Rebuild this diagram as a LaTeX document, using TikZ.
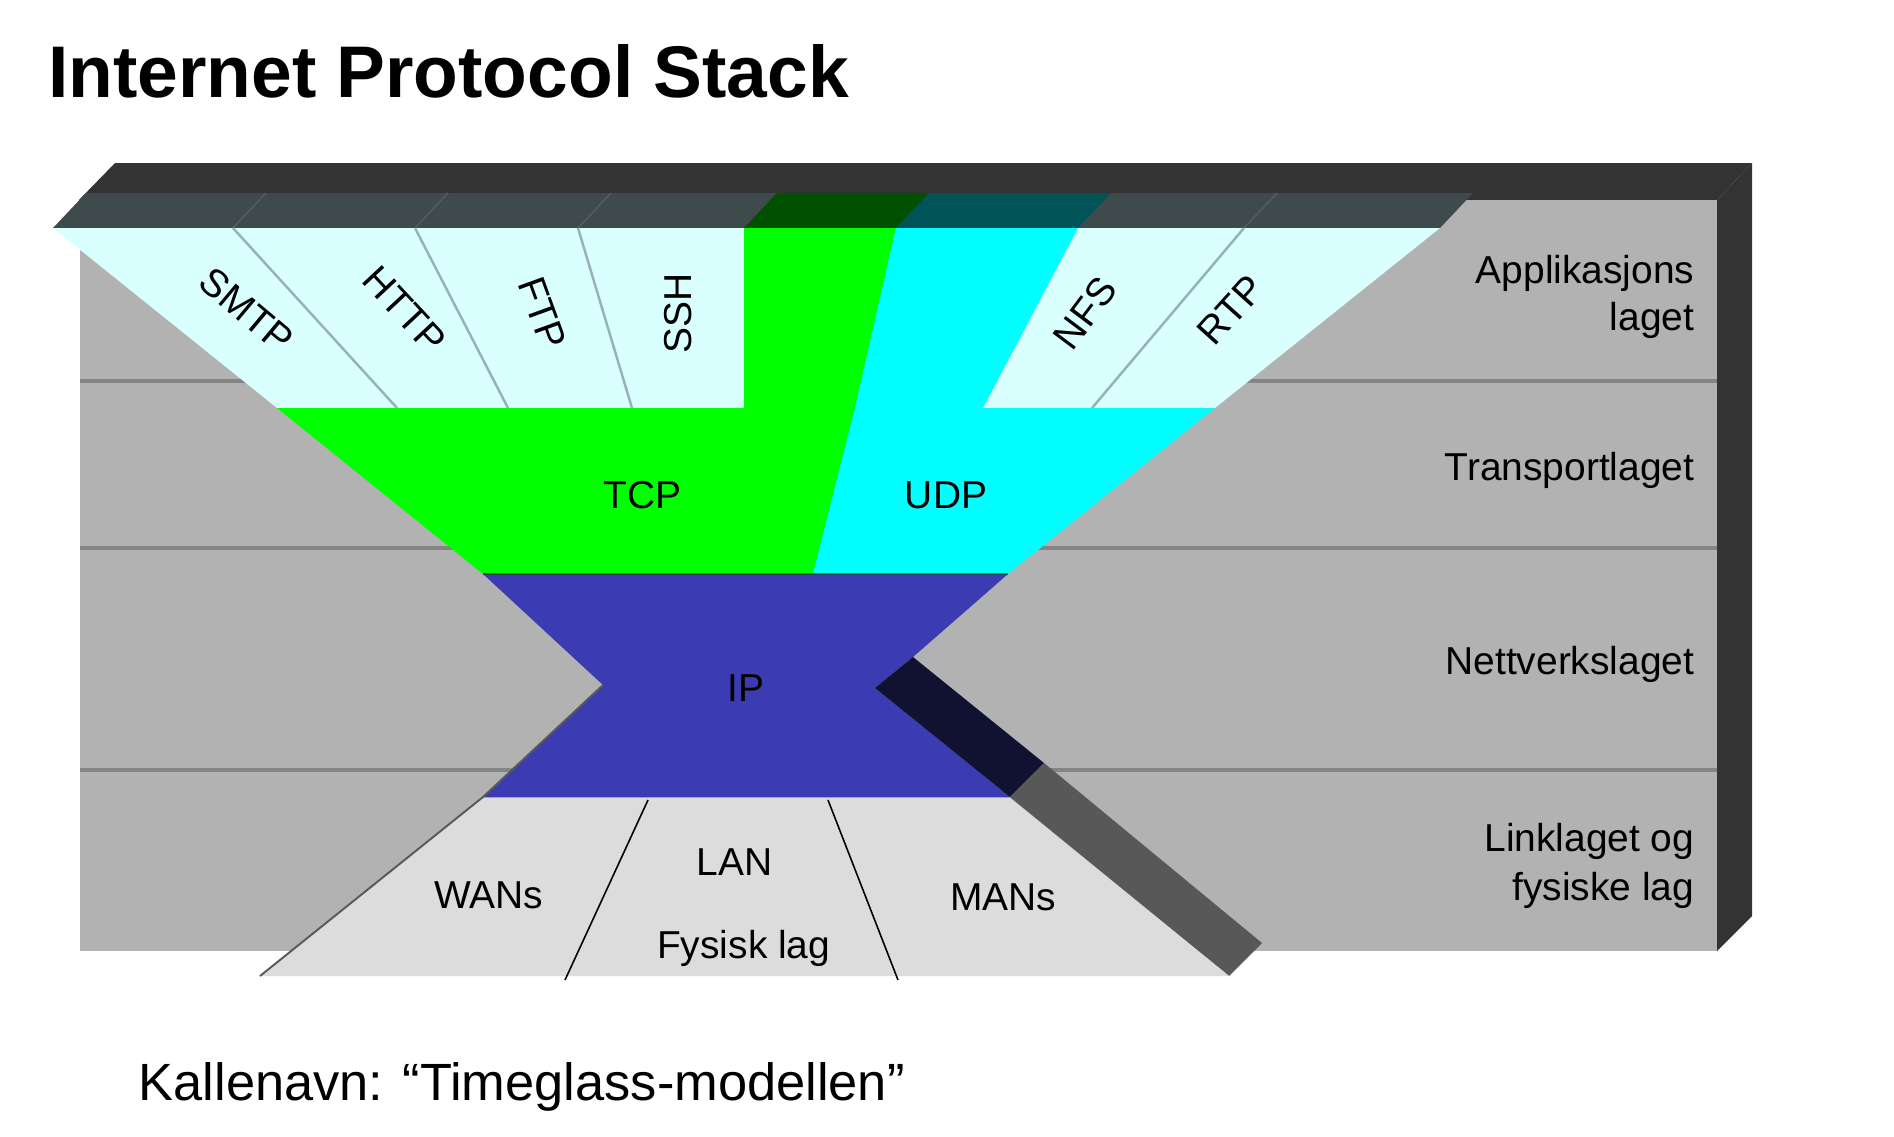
\documentclass[tikz,border=0pt]{standalone}
\usepackage{fontspec}
\setmainfont{Liberation Sans}

% palette of the hourglass stack
\definecolor{wallfront}{RGB}{178,178,178}
\definecolor{wallshade}{RGB}{51,51,51}
\definecolor{sepline}{RGB}{132,132,132}
\definecolor{slatetop}{RGB}{63,74,76}
\definecolor{slateline}{RGB}{80,92,94}
\definecolor{appcyan}{RGB}{218,255,255}
\definecolor{appline}{RGB}{150,178,182}
\definecolor{tcpgreen}{RGB}{0,255,0}
\definecolor{udpcyan}{RGB}{0,255,255}
\definecolor{greentop}{RGB}{0,80,0}
\definecolor{cyantop}{RGB}{0,84,88}
\definecolor{ipblue}{RGB}{60,60,178}
\definecolor{ipside}{RGB}{17,17,50}
\definecolor{linkside}{RGB}{88,88,88}
\definecolor{linkgray}{RGB}{220,220,220}

\begin{document}
\begin{tikzpicture}[x=0.01cm,y=-0.01cm,
  lbl/.style={inner sep=0pt, font=\fontsize{11.07pt}{13.45pt}\selectfont},
  sidelbl/.style={lbl, anchor=base east},
  titletext/.style={inner sep=0pt, anchor=base west, font=\fontsize{20.8pt}{25pt}\selectfont\bfseries},
  captiontext/.style={inner sep=0pt, anchor=base west, font=\fontsize{14.9pt}{18pt}\selectfont},
  layersep/.style={draw=sepline, line width=1pt},
  appdiv/.style={draw=appline, line width=0.7pt},
  topdiv/.style={draw=slateline, line width=0.45pt},
  linkdiv/.style={draw=black, line width=0.45pt},
  edgeshade/.style={draw=black!65, line width=0.55pt, line join=round}]

\fill[white] (0,0) rectangle (1894,1136);
\useasboundingbox (0,0) rectangle (1894,1136);

% ---- title ----
\node[titletext] (title) at (47.5,97.3) {Internet Protocol Stack};

% ---- back box: top face, right side face, front wall ----
\fill[wallshade] (79,200) -- (1717,200) -- (1752,163) -- (115,163) -- cycle;
\fill[wallshade] (1717,200) -- (1752,163) -- (1752,916) -- (1717,951) -- cycle;
\fill[wallfront] (80,200) rectangle (1717,951);
\draw[layersep] (80,381) -- (1717,381);
\draw[layersep] (80,548) -- (1717,548);
\draw[layersep] (80,770) -- (1717,770);

% ---- top face of the application layer ----
\fill[slatetop] (53,228) -- (1440,228) -- (1473,193) -- (86,193) -- cycle;
\fill[greentop] (744,228) -- (896,228) -- (929,193) -- (777,193) -- cycle;
\fill[cyantop] (896,228) -- (1078,228) -- (1111,193) -- (929,193) -- cycle;
\draw[topdiv] (233,228) -- (266,193);
\draw[topdiv] (415,228) -- (448,193);
\draw[topdiv] (578,228) -- (611,193);
\draw[topdiv] (1244,228) -- (1277,193);

% ---- application layer ----
\fill[appcyan] (53,228) -- (1440,228) -- (1215,408) -- (277,408) -- cycle;
\fill[tcpgreen] (744,228) -- (896,228) -- (855,408) -- (744,408) -- cycle;
\fill[udpcyan] (896,228) -- (1078,228) -- (983,408) -- (855,408) -- cycle;
\draw[appdiv] (233,228) -- (397,408);
\draw[appdiv] (415,228) -- (508,408);
\draw[appdiv] (578,228) -- (632,408);
\draw[appdiv] (1244,228) -- (1092,408);

% ---- transport layer ----
\fill[tcpgreen] (277,408) -- (855,408) -- (813,574) -- (483,574) -- cycle;
\fill[udpcyan] (855,408) -- (1215,408) -- (1008,574) -- (813,574) -- cycle;

% ---- network layer (hourglass waist) ----
\fill[ipblue] (483,574) -- (1008,574) -- (913,657) -- (875,688) -- (1010,797)
  -- (483,797) -- (603,685) -- cycle;
\fill[ipside] (913,657) -- (875,688) -- (1010,797) -- (1044,763) -- cycle;
\draw[draw=black!70!green, line width=0.4pt, opacity=0.6] (483,574) -- (1008,574);

% ---- link / physical layer ----
\fill[linkside] (1010,797) -- (1044,763) -- (1262,943) -- (1229,976) -- cycle;
\fill[linkgray] (483,798) -- (1010,798) -- (1229,976) -- (260,976) -- cycle;
\draw[edgeshade] (603,685) -- (483,797) -- (260,976);
\draw[linkdiv] (648,800) -- (565,980);
\draw[linkdiv] (828,800) -- (898,980);

% ---- protocol names ----
\node[lbl, rotate=-40] (smtp) at (246.6,310) {SMTP};
\node[lbl, rotate=-47] (http) at (404.8,310) {HTTP};
\node[lbl, rotate=-70] (ftp) at (542.5,313) {FTP};
\node[lbl, rotate=90] (ssh) at (677.8,313) {SSH};
\node[lbl, rotate=53] (nfs) at (1085.4,313) {NFS};
\node[lbl, rotate=48] (rtp) at (1230.8,310) {RTP};
\node[lbl, anchor=base] (tcp) at (642.8,508.3) {TCP};
\node[lbl, anchor=base] (udp) at (946,508.3) {UDP};
\node[lbl, anchor=base] (ip) at (746,701.7) {IP};
\node[lbl, anchor=base] (wans) at (489,908.3) {WANs};
\node[lbl, anchor=base] (lan) at (734.6,875) {LAN};
\node[lbl, anchor=base] (fysisk) at (743.7,958.3) {Fysisk lag};
\node[lbl, anchor=base] (mans) at (1003,910.7) {MANs};

% ---- layer names ----
\node[sidelbl] (appA) at (1695,283.3) {Applikasjons};
\node[sidelbl] (appB) at (1695,330.7) {laget};
\node[sidelbl] (trans) at (1695,480.7) {Transportlaget};
\node[sidelbl] (nett) at (1695,674) {Nettverkslaget};
\node[sidelbl] (linkA) at (1695,851.7) {Linklaget og};
\node[sidelbl] (linkB) at (1695,900) {fysiske lag};

% ---- caption ----
\node[captiontext] (caption) at (138,1100) {Kallenavn: “Timeglass-modellen”};
\end{tikzpicture}
\end{document}
